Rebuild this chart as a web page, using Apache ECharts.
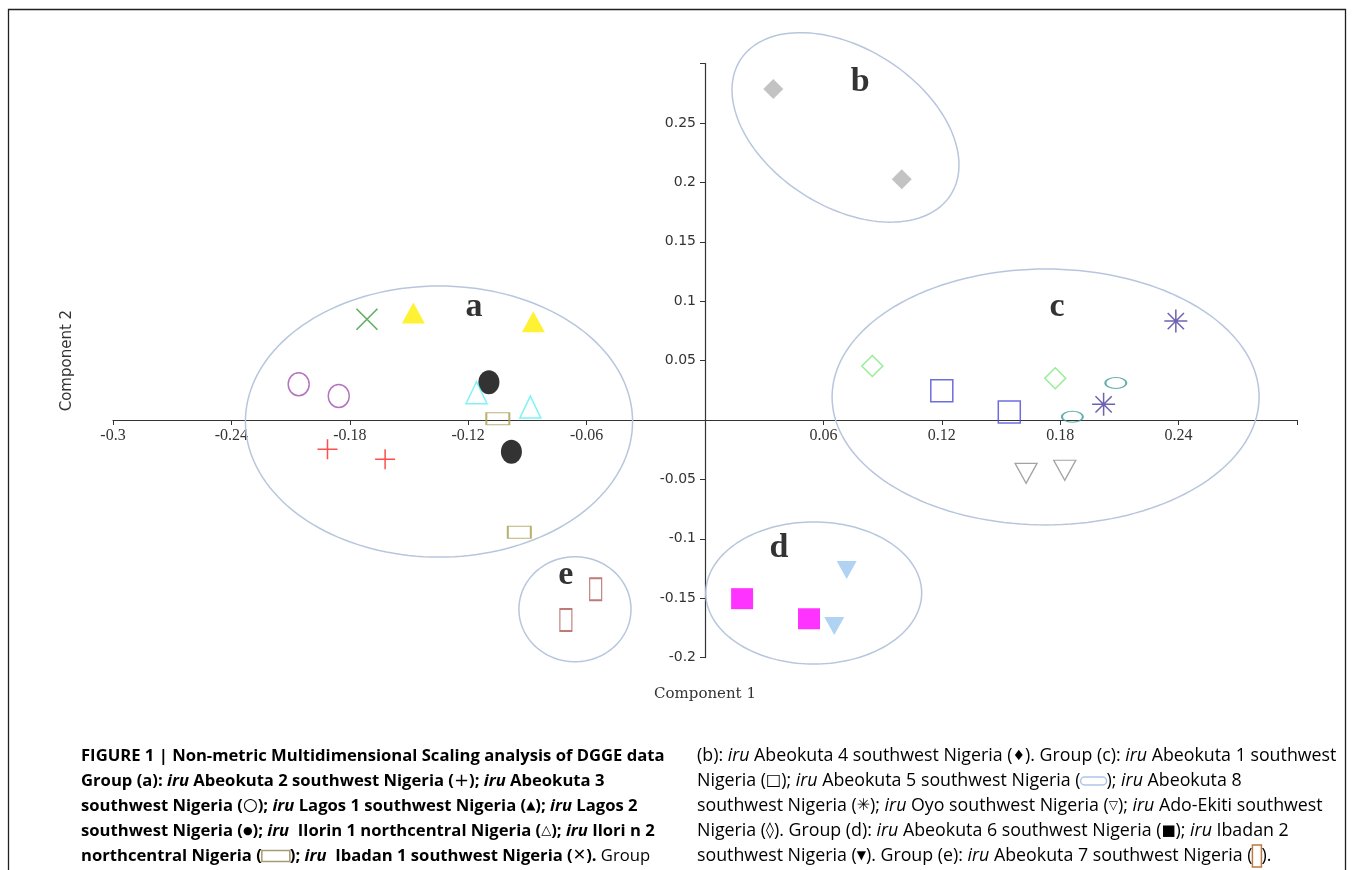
<!DOCTYPE html>
<html>
<head>
<meta charset="utf-8">
<script src="https://cdn.jsdelivr.net/npm/echarts@6/dist/echarts.min.js"></script>
<style>
html,body{margin:0;padding:0;background:#fff;}
#chart{width:1355px;height:870px;}
</style>
</head>
<body>
<div id="chart"></div>
<script>
// ---------- data (Component 1, Component 2) ----------
const abeokuta2 = [[-0.1913, -0.0247], [-0.1621, -0.0331]];   // red plus
const abeokuta3 = [[-0.2059, 0.0301], [-0.1856, 0.0202]];     // purple open circle
const lagos1    = [[-0.1478, 0.0901], [-0.0870, 0.0827]];     // yellow triangle
const ibadan1   = [[-0.1713, 0.0848]];                        // green cross
const lagos2    = [[-0.1095, 0.0317], [-0.0981, -0.0267]];    // black dot
const ilorin1   = [[-0.1158, 0.0230], [-0.0885, 0.0109]];     // cyan open triangle
const ilorin2   = [[-0.1050, 0.0011], [-0.0941, -0.0945]];    // olive open box
const abeokuta4 = [[0.0346, 0.2786], [0.0997, 0.2026]];       // grey diamond
const adoEkiti  = [[0.0848, 0.0455], [0.1775, 0.0351]];       // green open diamond
const abeokuta1 = [[0.1200, 0.0247], [0.1542, 0.0067]];       // blue open square
const abeokuta5 = [[0.2082, 0.0311], [0.1862, 0.0028]];       // teal ellipse
const abeokuta8 = [[0.2386, 0.0833], [0.2020, 0.0132]];       // navy asterisk
const oyo       = [[0.1627, -0.0449], [0.1823, -0.0423]];     // grey open down-triangle
const abeokuta6 = [[0.0188, -0.1504], [0.0527, -0.1673]];     // magenta square
const ibadan2   = [[0.0718, -0.1263], [0.0655, -0.1734]];     // light blue down-triangle
const abeokuta7 = [[-0.0554, -0.1425], [-0.0705, -0.1684]];   // brown open tall box

// group labels
const groupNames = ['a', 'b', 'c', 'd', 'e'];
const groupLabelX = [-0.1171, 0.0786, 0.1784, 0.0375, -0.0705];
const groupLabelY = [0.0948, 0.2845, 0.0951, -0.1079, -0.1304];

// group ellipses: centre and two semi-axis vectors, in data units
const ellCx = [-0.1348, 0.0712, 0.1726, 0.0551, -0.0659];
const ellCy = [-0.0013, 0.2463, 0.0194, -0.1456, -0.1593];
const ellUx = [0.0981, 0.0533, 0.1082, 0.0547, 0.0284];
const ellUy = [0, -0.0568, 0, 0, 0];
const ellVx = [0, -0.0216, 0, 0, 0];
const ellVy = [0.1141, -0.0560, 0.1077, 0.0598, 0.0442];

// axis ticks
const xTickValues = [-0.3, -0.24, -0.18, -0.12, -0.06, 0.06, 0.12, 0.18, 0.24];
const xTickLabels = ['-0.3', '-0.24', '-0.18', '-0.12', '-0.06', '0.06', '0.12', '0.18', '0.24'];
const yTickValues = [-0.2, -0.15, -0.1, -0.05, 0.05, 0.1, 0.15, 0.2, 0.25];
const yTickLabels = ['-0.2', '-0.15', '-0.1', '-0.05', '0.05', '0.1', '0.15', '0.2', '0.25'];

function tickLabel(values, labels) {
  return function (v) {
    for (let i = 0; i < values.length; i++) {
      if (Math.abs(values[i] - v) < 1e-6) return labels[i];
    }
    return '';
  };
}

// layout
const W = 1355, H = 870;
const G = {left: 113, right: 58, top: 63.6, bottom: 212.4};
const X_MIN = -0.3, X_MAX = 0.3, Y_MIN = -0.2, Y_MAX = 0.3;
const gridW = W - G.left - G.right, gridH = H - G.top - G.bottom;
// axes cross at the origin: move each axis (line, ticks, labels) to zero
const yAxisOffset = -gridW * (0 - X_MIN) / (X_MAX - X_MIN);
const xAxisOffset = -gridH * (0 - Y_MIN) / (Y_MAX - Y_MIN);

// fit caption font sizes to the column widths
const CAP_FAMILY = '"Open Sans", "DejaVu Sans", sans-serif';
const mctx = document.createElement('canvas').getContext('2d');
function fitSize(text, weight, target) {
  mctx.font = 'normal ' + weight + ' 100px ' + CAP_FAMILY;
  return 100 * target / mctx.measureText(text).width;
}
const leftSize = fitSize('FIGURE 1 | Non-metric Multidimensional Scaling analysis of DGGE data', 'bold', 584);
const rightSize = fitSize('(b): iru Abeokuta 4 southwest Nigeria (). Group (c): iru Abeokuta 1 southwest', 'normal', 629);

const chart = echarts.init(document.getElementById('chart'), null, {renderer: 'canvas'});

function open(color, w) { return {color: 'rgba(0,0,0,0)', borderColor: color, borderWidth: w || 1.5}; }
const P_PLUS = 'path://M10,0L10,20M0,10L20,10';
const P_X = 'path://M0,0L20,20M20,0L0,20';
const P_AST = 'path://M10,0L10,20M0,10L20,10M2.93,2.93L17.07,17.07M17.07,2.93L2.93,17.07';
const P_ELL = 'path://M0,10A10,10,0,1,1,20,10A10,10,0,1,1,0,10Z';

function sc(data, symbol, size, style, extra) {
  return Object.assign({type: 'scatter', data: data, symbol: symbol, symbolSize: size,
    itemStyle: style, z: 5, silent: true, emphasis: {disabled: true}}, extra || {});
}

const ellipseData = ellCx.map((c, i) => [c, ellCy[i], ellUx[i], ellUy[i], ellVx[i], ellVy[i]]);

function renderEllipse(params, api) {
  const cx = api.value(0), cy = api.value(1), ux = api.value(2), uy = api.value(3), vx = api.value(4), vy = api.value(5);
  const pts = [];
  const n = 160;
  for (let k = 0; k < n; k++) {
    const t = k / n * 2 * Math.PI;
    pts.push(api.coord([cx + ux * Math.cos(t) + vx * Math.sin(t), cy + uy * Math.cos(t) + vy * Math.sin(t)]));
  }
  return {type: 'polygon', shape: {points: pts}, style: {fill: 'none', stroke: '#b7c6de', lineWidth: 1.5}, silent: true};
}

// ---- caption ----
const SF = '"DejaVu Sans", sans-serif';
const LH = 20;
const rich = {
  b:  {fontFamily: CAP_FAMILY, fontWeight: 'bold', fontSize: leftSize, color: '#231f20', lineHeight: LH},
  bi: {fontFamily: CAP_FAMILY, fontWeight: 'bold', fontStyle: 'italic', fontSize: leftSize, color: '#231f20', lineHeight: LH},
  br: {fontFamily: CAP_FAMILY, fontSize: leftSize, color: '#3a3a3a', lineHeight: LH},
  r:  {fontFamily: CAP_FAMILY, fontSize: rightSize, color: '#3a3a3a', lineHeight: LH},
  i:  {fontFamily: CAP_FAMILY, fontStyle: 'italic', fontSize: rightSize, color: '#3a3a3a', lineHeight: LH},
  s_plus: {fontFamily: SF, fontSize: 18, color: '#ed1c24', lineHeight: LH},
  s_circ: {fontFamily: SF, fontSize: 17, color: '#c0784a', lineHeight: LH},
  s_ytri: {fontFamily: SF, fontSize: 12, color: '#eee000', lineHeight: LH},
  s_dot:  {fontFamily: SF, fontSize: 11, color: '#111', lineHeight: LH},
  s_ctri: {fontFamily: SF, fontSize: 13, color: '#8cc8e0', lineHeight: LH},
  s_box:  {width: 28, height: 11, borderColor: '#a89a70', borderWidth: 1.5, lineHeight: LH},
  s_xs:   {fontFamily: SF, fontSize: 16, color: '#cfe2bf', lineHeight: LH},
  s_gd:   {fontFamily: SF, fontSize: 14, color: '#a8a8a8', lineHeight: LH},
  s_bsq:  {fontFamily: SF, fontSize: 16, color: '#4a7cc8', lineHeight: LH},
  s_ell:  {width: 26, height: 8, borderColor: '#b0c4e8', borderWidth: 1.5, borderRadius: 5, lineHeight: LH},
  s_ast:  {fontFamily: SF, fontSize: 16, color: '#3434a8', lineHeight: LH},
  s_gtri: {fontFamily: SF, fontSize: 12, color: '#b4b4b4', lineHeight: LH},
  s_gdia: {fontFamily: SF, fontSize: 16, color: '#8cd060', lineHeight: LH},
  s_rsq:  {fontFamily: SF, fontSize: 15, color: '#c84848', lineHeight: LH},
  s_lbt:  {fontFamily: SF, fontSize: 12, color: '#a0c4e8', lineHeight: LH},
  s_orect:{width: 9, height: 22, borderColor: '#c07840', borderWidth: 1.5, lineHeight: LH}
};
function line(parts) { return parts.map(p => '{' + p[0] + '|' + p[1] + '}').join(''); }
const capLeft = [
  [['b', 'FIGURE 1 | Non-metric Multidimensional Scaling analysis of DGGE data']],
  [['b', 'Group (a): '], ['bi', 'iru'], ['b', ' Abeokuta 2 southwest Nigeria ('], ['s_plus', '+'], ['b', ');'], ['bi', ' iru'], ['b', ' Abeokuta 3']],
  [['b', 'southwest Nigeria ('], ['s_circ', '○'], ['b', ');'], ['bi', ' iru'], ['b', ' Lagos 1 southwest Nigeria ('], ['s_ytri', '▲'], ['b', ');'], ['bi', ' iru'], ['b', ' Lagos 2']],
  [['b', 'southwest Nigeria ('], ['s_dot', '●'], ['b', ');'], ['bi', ' iru'], ['b', '  Ilorin 1 northcentral Nigeria ('], ['s_ctri', '△'], ['b', ');'], ['bi', ' iru'], ['b', ' Ilori n 2']],
  [['b', 'northcentral Nigeria ('], ['s_box', ' '], ['b', ');'], ['bi', ' iru'], ['b', '  Ibadan 1 southwest Nigeria ('], ['s_xs', '✕'], ['b', '). '], ['br', 'Group']]
];
const capRight = [
  [['r', '(b): '], ['i', 'iru'], ['r', ' Abeokuta 4 southwest Nigeria ('], ['s_gd', '♦'], ['r', '). Group (c): '], ['i', 'iru'], ['r', ' Abeokuta 1 southwest']],
  [['r', 'Nigeria ('], ['s_bsq', '□'], ['r', '); '], ['i', 'iru'], ['r', ' Abeokuta 5 southwest Nigeria ('], ['s_ell', ' '], ['r', '); '], ['i', 'iru'], ['r', ' Abeokuta 8']],
  [['r', 'southwest Nigeria ('], ['s_ast', '✳'], ['r', '); '], ['i', 'iru'], ['r', ' Oyo southwest Nigeria ('], ['s_gtri', '▽'], ['r', '); '], ['i', 'iru'], ['r', ' Ado-Ekiti southwest']],
  [['r', 'Nigeria ('], ['s_gdia', '◊'], ['r', '). Group (d): '], ['i', 'iru'], ['r', ' Abeokuta 6 southwest Nigeria ('], ['s_rsq', '■'], ['r', '); '], ['i', 'iru'], ['r', ' Ibadan 2']],
  [['r', 'southwest Nigeria ('], ['s_lbt', '▼'], ['r', '). Group (e): '], ['i', 'iru'], ['r', ' Abeokuta 7 southwest Nigeria ('], ['s_orect', ' '], ['r', ').']]
];
const capY = [756, 781, 806, 831, 856];
const graphics = [
  {type: 'rect', shape: {x: 8.5, y: 9.5, width: 1337, height: 900}, style: {fill: 'none', stroke: '#231f20', lineWidth: 1.3}, silent: true, z: 0}
];
capLeft.forEach((p, k) => graphics.push({type: 'text', x: 81, y: capY[k], silent: true,
  style: {text: line(p), rich: rich, align: 'left', verticalAlign: 'middle'}}));
capRight.forEach((p, k) => graphics.push({type: 'text', x: 697, y: capY[k], silent: true,
  style: {text: line(p), rich: rich, align: 'left', verticalAlign: 'middle'}}));

const axisCommon = {
  type: 'value',
  axisLine: {onZero: false, lineStyle: {color: '#333', width: 1.2}},
  axisTick: {show: true, length: 5, lineStyle: {color: '#333', width: 1}},
  splitLine: {show: false}
};

const option = {
  animation: false,
  backgroundColor: '#ffffff',
  grid: {left: G.left, right: G.right, top: G.top, bottom: G.bottom, containLabel: false, outerBoundsMode: 'none'},
  xAxis: Object.assign({}, axisCommon, {
    position: 'bottom', offset: xAxisOffset,
    min: X_MIN, max: X_MAX, interval: 0.06,
    name: 'Component 1', nameLocation: 'middle', nameGap: 267, nameMoveOverlap: false,
    nameTextStyle: {fontFamily: '"DejaVu Serif", serif', fontSize: 15, color: '#333'},
    axisLabel: {formatter: tickLabel(xTickValues, xTickLabels), fontFamily: '"Liberation Serif", serif', fontSize: 16, color: '#333', margin: 8, showMinLabel: true, showMaxLabel: true, hideOverlap: false}
  }),
  yAxis: Object.assign({}, axisCommon, {
    position: 'left', offset: yAxisOffset,
    min: Y_MIN, max: Y_MAX, interval: 0.05,
    name: 'Component 2', nameLocation: 'middle', nameGap: 630, nameRotate: 90, nameMoveOverlap: false,
    nameTextStyle: {fontFamily: '"DejaVu Sans", sans-serif', fontSize: 15, color: '#333'},
    axisLabel: {formatter: tickLabel(yTickValues, yTickLabels), fontFamily: '"DejaVu Sans", sans-serif', fontSize: 14, color: '#333', margin: 9, showMinLabel: true, showMaxLabel: true, hideOverlap: false}
  }),
  graphic: graphics,
  series: [
    {type: 'custom', renderItem: renderEllipse, data: ellipseData, encode: {x: 0, y: 1}, z: 2, silent: true, clip: false},
    sc(abeokuta2, P_PLUS, [20, 20], open('#ff2222', 1.5)),
    sc(abeokuta3, P_ELL, [21, 23], open('#a050b0', 1.5)),
    sc(lagos1, 'triangle', [23, 21], {color: '#ffee00'}),
    sc(ibadan1, P_X, [21, 21], open('#3a9a3a', 1.6)),
    sc(lagos2, P_ELL, [21, 24], {color: '#000000'}),
    sc(ilorin1, 'triangle', [21, 22], open('#5ff0f0', 1.5)),
    sc(ilorin2, 'rect', [23, 12], open('#a8a050', 1.5)),
    sc(abeokuta4, 'diamond', [20, 20], {color: '#b4b4b4'}),
    sc(adoEkiti, 'diamond', [21, 21], open('#7ee87e', 1.5)),
    sc(abeokuta1, 'rect', [22, 22], open('#4848d8', 1.5)),
    sc(abeokuta5, P_ELL, [21, 11], open('#3a9898', 1.5)),
    sc(abeokuta8, P_AST, [23, 23], open('#4a3a9c', 1.5)),
    sc(oyo, 'triangle', [22, 20], open('#8c8c8c', 1.3), {symbolRotate: 180}),
    sc(abeokuta6, 'rect', [22, 21], {color: '#ff00ff'}),
    sc(ibadan2, 'triangle', [20, 18], {color: '#9cc8f0'}, {symbolRotate: 180}),
    sc(abeokuta7, 'rect', [12, 22], open('#b05858', 1.5)),
    {
      type: 'scatter', silent: true, z: 6, symbol: 'circle', symbolSize: 1,
      itemStyle: {color: 'rgba(0,0,0,0)'},
      data: groupNames.map((n, i) => ({name: n, value: [groupLabelX[i], groupLabelY[i]]})),
      label: {show: true, position: 'inside', formatter: '{b}', fontFamily: '"Liberation Serif", serif', fontWeight: 'bold', fontSize: 34, color: '#000'}
    }
  ]
};
chart.setOption(option);
</script>
</body>
</html>
